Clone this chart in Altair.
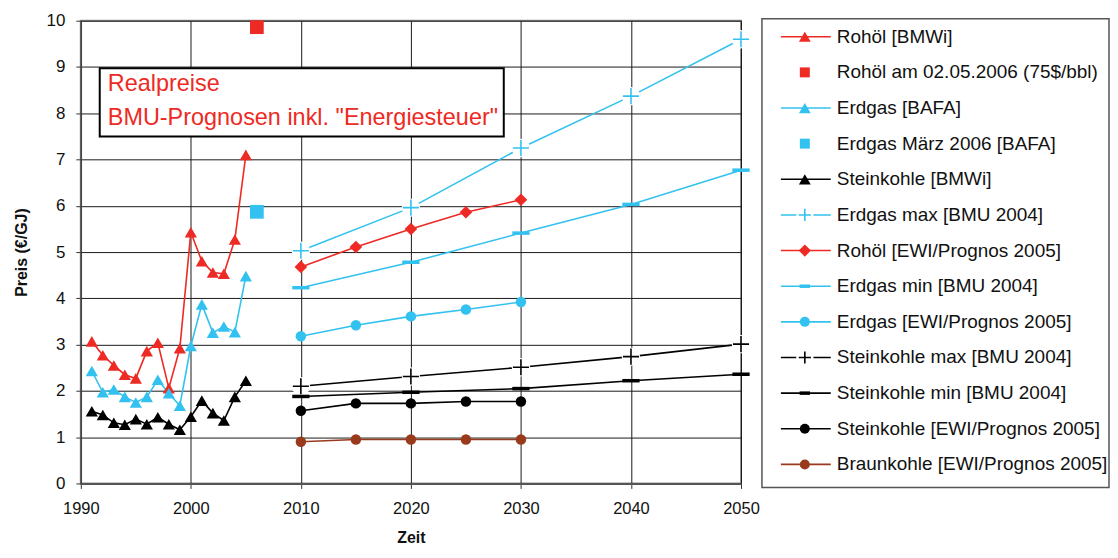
import altair as alt
import pandas as pd

FONT = "Liberation Sans"
NARROW = "Liberation Sans Narrow, Liberation Sans, Arial"

RED = "#ee2a24"
BLUE = "#33c2ef"
BLACK = "#000000"
BROWN = "#9a3a1c"

# ---- data -------------------------------------------------------------
years_hist = [1991, 1992, 1993, 1994, 1995, 1996, 1997, 1998, 1999, 2000, 2001, 2002, 2003, 2004, 2005]
rohoel_bmwi = [3.07, 2.77, 2.55, 2.35, 2.27, 2.86, 3.04, 2.06, 2.92, 5.43, 4.80, 4.56, 4.53, 5.27, 7.10]
erdgas_bafa = [2.43, 1.97, 2.03, 1.87, 1.75, 1.87, 2.24, 1.95, 1.68, 2.97, 3.87, 3.26, 3.39, 3.27, 4.48]
steinkohle_bmwi = [1.56, 1.48, 1.31, 1.27, 1.39, 1.28, 1.43, 1.28, 1.16, 1.44, 1.79, 1.52, 1.36, 1.87, 2.22]

years_2006 = [2006]
rohoel_2006 = [9.86]
erdgas_2006 = [5.87]

years_bmu = [2010, 2020, 2030, 2040, 2050]
erdgas_max = [5.03, 5.96, 7.25, 8.37, 9.60]
erdgas_min = [4.23, 4.78, 5.41, 6.03, 6.77]
steinkohle_max = [2.10, 2.31, 2.51, 2.74, 3.01]
steinkohle_min = [1.88, 1.97, 2.05, 2.22, 2.36]

years_ewi = [2010, 2015, 2020, 2025, 2030]
rohoel_ewi = [4.68, 5.11, 5.50, 5.86, 6.13]
erdgas_ewi = [3.18, 3.42, 3.61, 3.76, 3.92]
steinkohle_ewi = [1.57, 1.73, 1.73, 1.77, 1.77]
braunkohle_ewi = [0.90, 0.95, 0.95, 0.95, 0.95]

x_ticks = [1990, 2000, 2010, 2020, 2030, 2040, 2050]
y_ticks = [0, 1, 2, 3, 4, 5, 6, 7, 8, 9, 10]

note_lines = ["Realpreise", 'BMU-Prognosen inkl. "Energiesteuer"']

# series: name, years, values, colour, marker, line
series = [
    ("Rohöl [BMWi]", years_hist, rohoel_bmwi, RED, "tri", True),
    ("Rohöl am 02.05.2006 (75$/bbl)", years_2006, rohoel_2006, RED, "square", False),
    ("Erdgas [BAFA]", years_hist, erdgas_bafa, BLUE, "tri", True),
    ("Erdgas März 2006 [BAFA]", years_2006, erdgas_2006, BLUE, "square", False),
    ("Steinkohle [BMWi]", years_hist, steinkohle_bmwi, BLACK, "tri", True),
    ("Erdgas max [BMU 2004]", years_bmu, erdgas_max, BLUE, "cross", True),
    ("Rohöl [EWI/Prognos 2005]", years_ewi, rohoel_ewi, RED, "diamond", True),
    ("Erdgas min [BMU 2004]", years_bmu, erdgas_min, BLUE, "dash", True),
    ("Erdgas [EWI/Prognos 2005]", years_ewi, erdgas_ewi, BLUE, "circle", True),
    ("Steinkohle max [BMU 2004]", years_bmu, steinkohle_max, BLACK, "cross", True),
    ("Steinkohle min [BMU 2004]", years_bmu, steinkohle_min, BLACK, "dash", True),
    ("Steinkohle [EWI/Prognos 2005]", years_ewi, steinkohle_ewi, BLACK, "circle", True),
    ("Braunkohle [EWI/Prognos 2005]", years_ewi, braunkohle_ewi, BROWN, "circle", True),
]

names = [s[0] for s in series]
colors = [s[3] for s in series]

rows = []
for name, ys, vs, col, mk, ln in series:
    for yr, v in zip(ys, vs):
        rows.append({"series": name, "year": yr, "value": v, "marker": mk, "line": ln})
df = pd.DataFrame(rows)

legend_df = pd.DataFrame({
    "series": names,
    "idx": list(range(len(names))),
    "marker": [s[4] for s in series],
    "line": [s[5] for s in series],
})

# ---- scales -----------------------------------------------------------
x_scale = alt.Scale(domain=[1990, 2050], nice=False, zero=False)
y_scale = alt.Scale(domain=[0, 10], nice=False)
color_scale = alt.Scale(domain=names, range=colors)

CROSS = "M-1,0L1,0M0,-1L0,1"
DASH = "M-1,0L1,0"

x_axis = alt.Axis(values=x_ticks, format="d", title="Zeit", grid=True, labelFlush=False,
                  gridColor="#1a1a1a", gridWidth=1, domainColor="#555", domainWidth=2,
                  tickColor="#333", tickSize=5, labelPadding=12, labelFontSize=16.5,
                  labelFont=NARROW, labelColor="#111", titleFont=FONT, titleFontSize=16,
                  titleFontWeight="bold", titlePadding=13, titleColor="#111")
y_axis = alt.Axis(values=y_ticks, title="Preis (€/GJ)", grid=True, labelFlush=False,
                  gridColor="#1a1a1a", gridWidth=1, domainColor="#444", domainWidth=1.5,
                  tickColor="#333", tickSize=5, labelPadding=11, labelFontSize=17,
                  labelFont=NARROW, labelColor="#111", titleFont=FONT, titleFontSize=16,
                  titleFontWeight="bold", titlePadding=17, titleColor="#111")

base = alt.Chart(df).encode(
    x=alt.X("year:Q", scale=x_scale, axis=x_axis),
    y=alt.Y("value:Q", scale=y_scale, axis=y_axis),
    color=alt.Color("series:N", scale=color_scale, legend=None),
)

lines = base.transform_filter("datum.line").mark_line(strokeWidth=1.6).encode(
    detail="series:N", order="year:Q")
halos = base.transform_filter("datum.marker == 'cross'").mark_point(
    shape="circle", filled=True, size=340, opacity=1).encode(color=alt.value("white"))
tris = base.transform_filter("datum.marker == 'tri'").mark_point(
    shape="triangle-up", filled=True, size=150, opacity=1)
squares = base.transform_filter("datum.marker == 'square'").mark_point(
    shape="square", filled=True, size=190, opacity=1)
diamonds = base.transform_filter("datum.marker == 'diamond'").mark_point(
    shape="diamond", filled=True, size=160, opacity=1)
circles = base.transform_filter("datum.marker == 'circle'").mark_point(
    shape="circle", filled=True, size=110, opacity=1)
crosses = base.transform_filter("datum.marker == 'cross'").mark_point(
    shape=CROSS, filled=False, size=260, strokeWidth=1.6, opacity=1)
dashes = base.transform_filter("datum.marker == 'dash'").mark_point(
    shape=DASH, filled=False, size=300, strokeWidth=3.5, opacity=1)

# annotation box
box_df = pd.DataFrame({"x": [1991.72], "x2": [2028.44], "y": [8.97], "y2": [7.50]})
box = alt.Chart(box_df).mark_rect(fill="white", stroke="black", strokeWidth=2).encode(
    x=alt.X("x:Q", scale=x_scale, title="Zeit"), x2="x2",
    y=alt.Y("y:Q", scale=y_scale, title="Preis (€/GJ)"), y2="y2")
note_df = pd.DataFrame({"x": [1992.45, 1992.45], "y": [8.63, 7.90], "text": note_lines})
note = alt.Chart(note_df).mark_text(align="left", baseline="middle", font=FONT,
                                    fontSize=23.5, color=RED).encode(
    x=alt.X("x:Q", scale=x_scale, title="Zeit"),
    y=alt.Y("y:Q", scale=y_scale, title="Preis (€/GJ)"),
    text="text:N")

main = alt.layer(lines, box, note, halos, tris, squares, diamonds, circles, crosses, dashes).properties(
    width=662, height=464,
    view=alt.ViewBackground(stroke="#8f8f8f", strokeWidth=2),
)

# ---- legend panel -------------------------------------------------------
LEG_W = 348
LEG_H = 466
lbase = alt.Chart(legend_df).encode(
    y=alt.Y("idx:Q", scale=alt.Scale(domain=[12.59, -0.45], nice=False, zero=False), axis=None),
    color=alt.Color("series:N", scale=color_scale, legend=None),
)
frame = alt.Chart(pd.DataFrame({"k": [0]})).mark_rect(
    fill="white", stroke="#555", strokeWidth=1.5).encode(
    x=alt.value(0), x2=alt.value(LEG_W), y=alt.value(-2), y2=alt.value(LEG_H + 2))
l_lines = lbase.transform_filter("datum.line").mark_rule(strokeWidth=1.6).encode(
    x=alt.value(19), x2=alt.value(69))
l_halo = lbase.transform_filter("datum.marker == 'cross'").mark_point(
    shape="circle", filled=True, size=300, opacity=1).encode(x=alt.value(43), color=alt.value("white"))
l_tri = lbase.transform_filter("datum.marker == 'tri'").mark_point(
    shape="triangle-up", filled=True, size=140, opacity=1).encode(x=alt.value(43))
l_sq = lbase.transform_filter("datum.marker == 'square'").mark_point(
    shape="square", filled=True, size=100, opacity=1).encode(x=alt.value(43))
l_dia = lbase.transform_filter("datum.marker == 'diamond'").mark_point(
    shape="diamond", filled=True, size=150, opacity=1).encode(x=alt.value(43))
l_cir = lbase.transform_filter("datum.marker == 'circle'").mark_point(
    shape="circle", filled=True, size=100, opacity=1).encode(x=alt.value(43))
l_cross = lbase.transform_filter("datum.marker == 'cross'").mark_point(
    shape=CROSS, filled=False, size=150, strokeWidth=1.6, opacity=1).encode(x=alt.value(43))
l_dash = lbase.transform_filter("datum.marker == 'dash'").mark_point(
    shape=DASH, filled=False, size=110, strokeWidth=3.5, opacity=1).encode(x=alt.value(43))
l_text = lbase.mark_text(align="left", baseline="middle", font=FONT, fontSize=19).encode(
    x=alt.value(75), text="series:N", color=alt.value("#111"))

legend = alt.layer(frame, l_lines, l_halo, l_tri, l_sq, l_dia, l_cir, l_cross, l_dash, l_text).properties(
    width=LEG_W, height=LEG_H,
    view=alt.ViewBackground(stroke=None, strokeWidth=0),
)

chart = alt.hconcat(main, legend, spacing=0).resolve_scale(
    x="independent", y="independent"
).properties(
    padding={"left": 4, "top": 2, "right": 0, "bottom": 0},
    background="white",
)

chart.save("out.html", embed_options={"renderer": "svg", "actions": False})
